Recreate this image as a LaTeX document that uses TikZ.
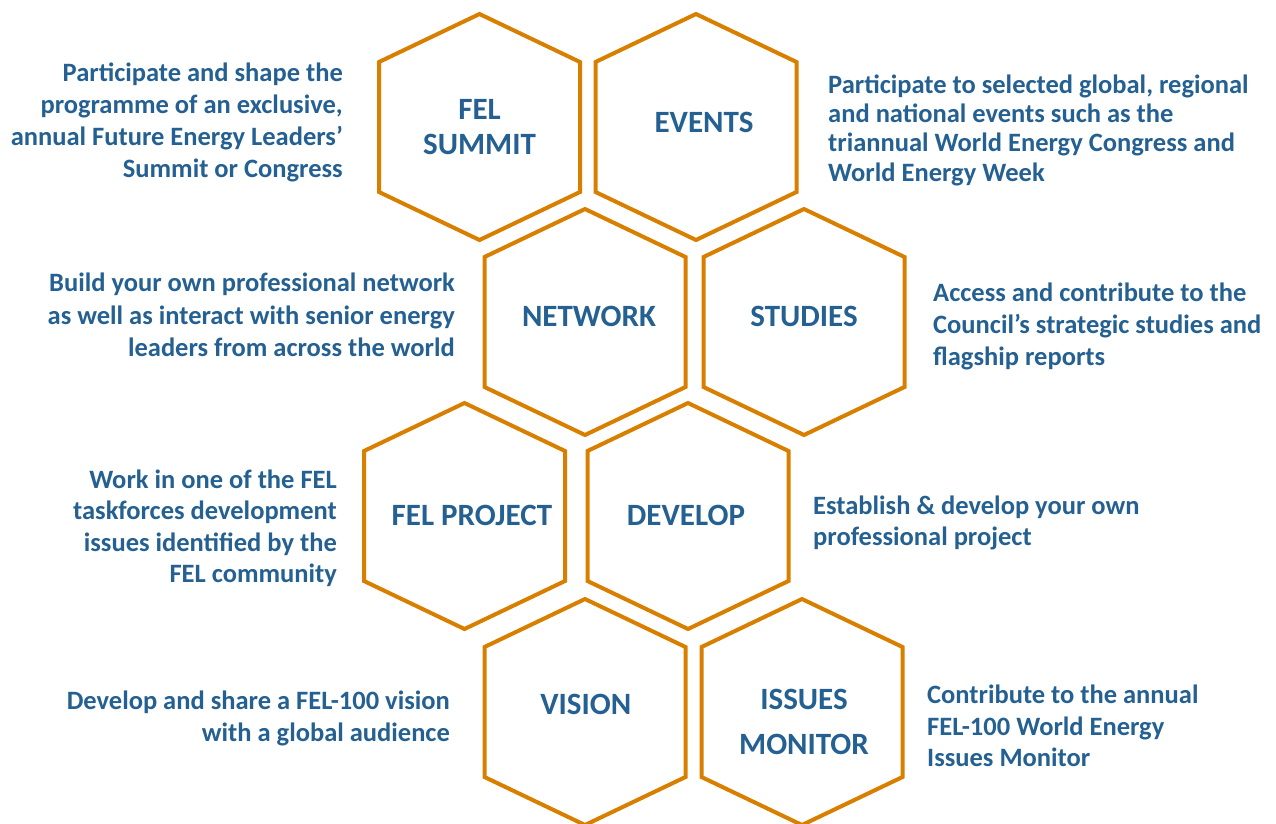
\documentclass[tikz,border=0pt]{standalone}
\usepackage{fontspec}
\setmainfont{Carlito}
\definecolor{felblue}{RGB}{36,96,145}
\definecolor{felorange}{RGB}{217,127,0}
\tikzset{
  hexline/.style={draw=felorange, line width=4pt, line join=miter},
  hexagon/.pic={\path[hexline] (0,-113) -- (100.5,-65) -- (100.5,65) -- (0,113) -- (-100.5,65) -- (-100.5,-65) -- cycle;},
  hexlabel/.style={text=felblue, font=\bfseries\fontsize{31}{35}\selectfont, align=center, inner sep=0pt, anchor=base},
  descr/.style={text=felblue, font=\bfseries\fontsize{26.5}{#1}\selectfont, inner sep=0pt},
  descl/.style={descr=#1, align=right, anchor=base east},
  descrt/.style={descr=#1, align=left, anchor=base west},
}
\begin{document}
\begin{tikzpicture}[x=1pt, y=-1pt]
\useasboundingbox (0,0) rectangle (1276,823);
\clip (0,0) rectangle (1276,823);
% hexagon centres
\coordinate (hsummit) at (479.5,127);
\coordinate (hevents) at (696,127);
\coordinate (hnetwork) at (585,322);
\coordinate (hstudies) at (804,322);
\coordinate (hproject) at (464.5,516);
\coordinate (hdevelop) at (688,516);
\coordinate (hvision) at (585,712);
\coordinate (hmonitor) at (802,712);
\foreach \h in {hsummit,hevents,hnetwork,hstudies,hproject,hdevelop,hvision,hmonitor}
  \pic at (\h) {hexagon};
% hexagon labels (base anchor = baseline of the last line)
\node[hexlabel] (summit) at (479.5,154) {FEL\\SUMMIT};
\node[hexlabel] (events) at (704,132.7) {EVENTS};
\node[hexlabel] (network) at (589,326) {NETWORK};
\node[hexlabel] (studies) at (804,326) {STUDIES};
\node[hexlabel] (project) at (472,525) {FEL PROJECT};
\node[hexlabel] (develop) at (686,525) {DEVELOP};
\node[hexlabel] (vision) at (585.7,714) {VISION};
\node[hexlabel, font=\bfseries\fontsize{31}{44.7}\selectfont] (monitor) at (804,754) {ISSUES\\MONITOR};
% descriptions
\node[descl=32] (dsummit) at (343,177) {Participate and shape the\\programme of an exclusive,\\annual Future Energy Leaders’\\Summit or Congress};
\node[descrt=29.3] (devents) at (828,181) {Participate to selected global, regional\\and national events such as the\\triannual World Energy Congress and\\World Energy Week};
\node[descl=32.5] (dnetwork) at (455,356.7) {Build your own professional network\\as well as interact with senior energy\\leaders from across the world};
\node[descrt=32] (dstudies) at (933,365.7) {Access and contribute to the\\Council’s strategic studies and\\flagship reports};
\node[descl=31.5] (dproject) at (337,582.5) {Work in one of the FEL\\taskforces development\\issues identified by the\\FEL community};
\node[descrt=30.7] (ddevelop) at (813,545) {Establish \& develop your own\\professional project};
\node[descl=31.7] (dvision) at (450,741) {Develop and share a FEL-100 vision\\with a global audience};
\node[descrt=31.7] (dmonitor) at (927,766.7) {Contribute to the annual\\FEL-100 World Energy\\Issues Monitor};
\end{tikzpicture}
\end{document}
